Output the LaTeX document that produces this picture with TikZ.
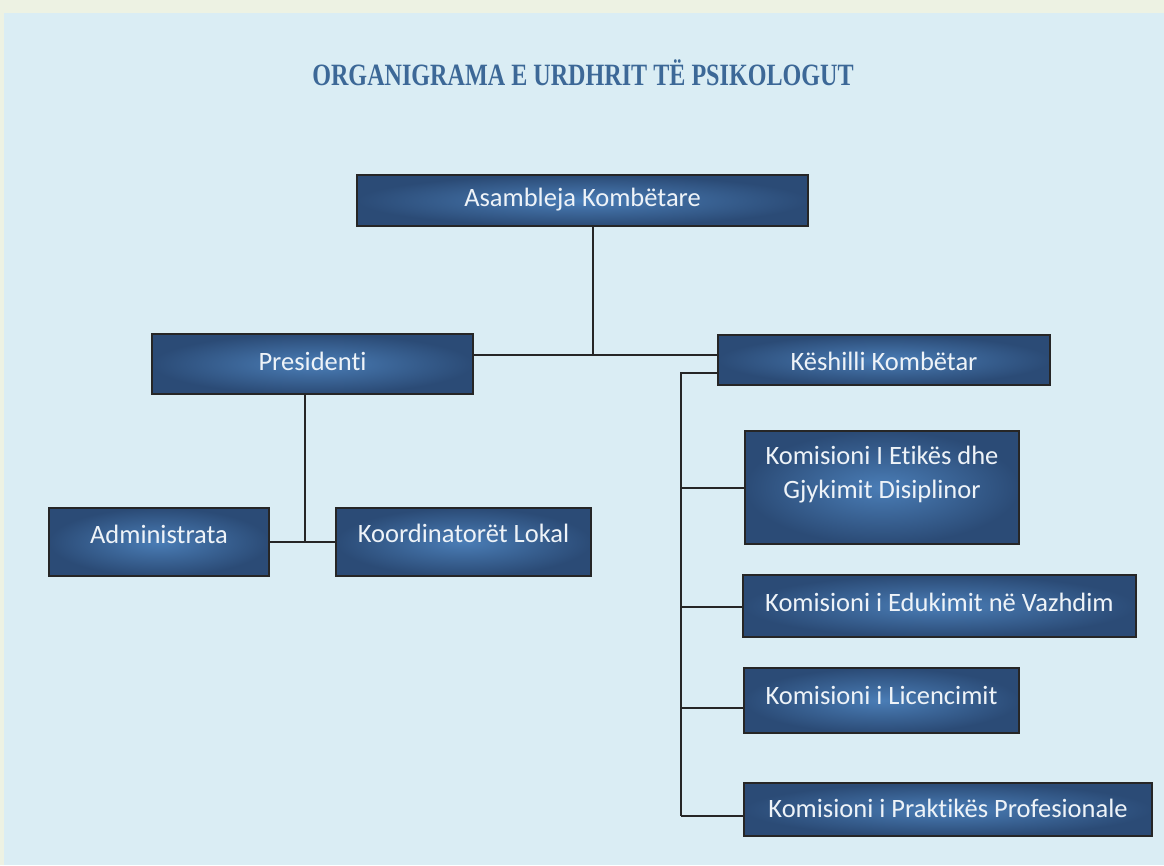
\documentclass[tikz,border=0pt]{standalone}
\usepackage{fontspec}
\setmainfont[Ligatures=NoCommon]{Carlito}
\newfontfamily\titlefont{Liberation Serif}
\usepackage{graphicx}
\definecolor{panel}{HTML}{DAEDF4}
\definecolor{frame}{HTML}{EDF2E3}
\definecolor{titleblue}{HTML}{3C6897}
\definecolor{boxin}{HTML}{4A7DB6}
\definecolor{boxout}{HTML}{2B4B76}
\definecolor{txt}{HTML}{EEF3F8}
\tikzset{
  box/.style={draw=black!85, line width=1.6pt, inner color=boxin, outer color=boxout, inner sep=0pt},
  lbl/.style={text=txt, font=\fontsize{26.5}{34}\selectfont, align=center, inner sep=0pt},
  conn/.style={draw=black!85, line width=2pt}
}
\begin{document}
\begin{tikzpicture}[x=1pt,y=-1pt]
\useasboundingbox (0,0) rectangle (1164,865);
\fill[frame] (0,0) rectangle (1164,865);
\fill[panel] (4,13) rectangle (1164,865);
\node[text=titleblue, inner sep=0pt] (title) at (583,73) {\scalebox{0.778}[1]{\titlefont\bfseries\fontsize{31}{36}\selectfont ORGANIGRAMA E URDHRIT TË PSIKOLOGUT}};
% boxes
\node[box, minimum width=451pt, minimum height=51pt] (ak) at (582.5,200.5) {};
\node[box, minimum width=321pt, minimum height=60pt] (pr) at (312.5,364) {};
\node[box, minimum width=332pt, minimum height=50pt] (kk) at (884,360) {};
\node[box, minimum width=220pt, minimum height=68pt] (ad) at (159,542) {};
\node[box, minimum width=255pt, minimum height=68pt] (kl) at (463.5,542) {};
\node[box, minimum width=274pt, minimum height=113pt] (ke) at (882,487.5) {};
\node[box, minimum width=393pt, minimum height=62pt] (ed) at (939.5,606) {};
\node[box, minimum width=275pt, minimum height=65pt] (li) at (881.5,700.5) {};
\node[box, minimum width=408pt, minimum height=53pt] (pp) at (948,809.5) {};
% labels
\node[lbl] (akt) at (582.5,200) {Asambleja Kombëtare};
\node[lbl] (prt) at (312.5,361) {Presidenti};
\node[lbl] (kkt) at (884,361) {Këshilli Kombëtar};
\node[lbl] (adt) at (159,534) {Administrata};
\node[lbl] (klt) at (463.5,533) {Koordinatorët Lokal};
\node[lbl] (ket) at (882,475) {Komisioni I Etikës dhe\\Gjykimit Disiplinor};
\node[lbl] (edt) at (939.5,602) {Komisioni i Edukimit në Vazhdim};
\node[lbl] (lit) at (881.5,695) {Komisioni i Licencimit};
\node[lbl] (ppt) at (948,808) {Komisioni i Praktikës Profesionale};
% connectors
\coordinate (j1) at ([xshift=10pt]ak.south |- 0,355);
\draw[conn] ([xshift=10pt]ak.south) -- (j1);
\draw[conn] (pr.east |- j1) -- (kk.west |- j1);
\draw[conn] ([xshift=-7.5pt]pr.south) -- ([xshift=-7.5pt]pr.south |- ad.east);
\draw[conn] (ad.east) -- (kl.west);
\coordinate (sp) at (681,373);
\draw[conn] (kk.west |- sp) -- (sp) -- (681,816);
\draw[conn] (681,488) -- (ke.west |- 0,488);
\draw[conn] (681,607) -- (ed.west |- 0,607);
\draw[conn] (681,708) -- (li.west |- 0,708);
\draw[conn] (681,816) -- (pp.west |- 0,816);
\end{tikzpicture}
\end{document}
